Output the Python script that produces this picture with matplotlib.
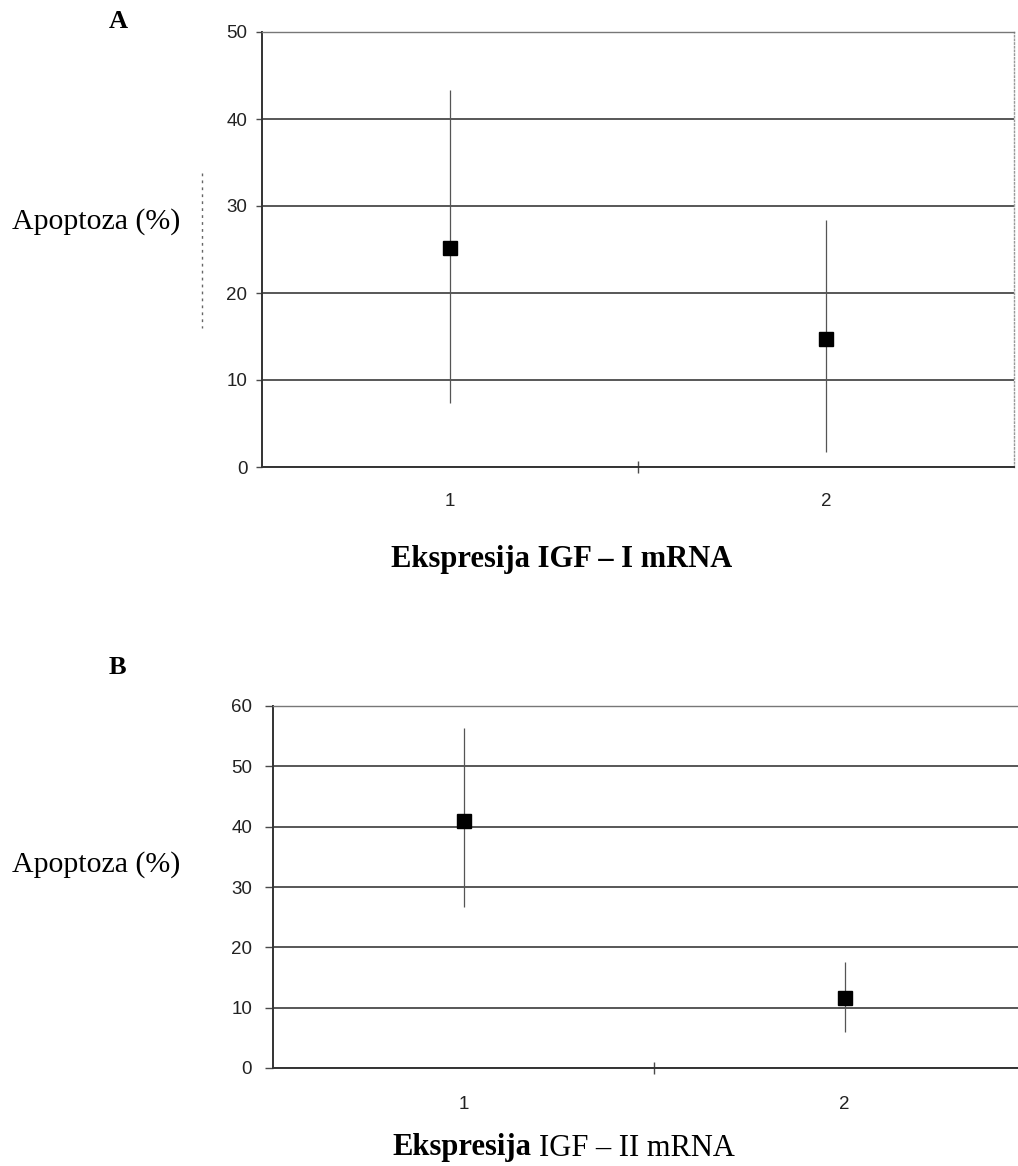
import numpy as np
import matplotlib
matplotlib.use("Agg")
import matplotlib.pyplot as plt
from matplotlib.lines import Line2D

# panel A: IGF-I mRNA expression
cats = [1, 2]
a_vals = [25.2, 14.7]
a_lo = [7.4, 1.7]
a_hi = [43.3, 28.4]

# panel B: IGF-II mRNA expression
b_vals = [41.0, 11.6]
b_lo = [26.7, 5.9]
b_hi = [56.4, 17.5]

a_yticks = [0, 10, 20, 30, 40, 50]
b_yticks = [0, 10, 20, 30, 40, 50, 60]

W, H = 1018, 1166
fig = plt.figure(figsize=(W / 100, H / 100), dpi=100)

serif = "Liberation Serif"
sans = "Liberation Sans"
grid_col = "#4a4a4a"


def panel(rect, vals, lo, hi, yticks, xlab_pad, ylen, ypad):
    ax = fig.add_axes(rect)
    vals = np.array(vals)
    err = [vals - np.array(lo), np.array(hi) - vals]
    ax.errorbar(cats, vals, yerr=err, fmt="s", color="black", ms=9.5,
                ecolor="#555555", elinewidth=0.9, capsize=0, zorder=3)
    ax.set_xlim(0.5, 2.5)
    ax.set_ylim(yticks[0], yticks[-1])
    ax.set_yticks(yticks)
    ax.yaxis.grid(True, color=grid_col, lw=1.3)
    ax.set_axisbelow(True)
    ax.set_xticks(cats)
    ax.set_xticks([1.5], minor=True)
    ax.tick_params(axis="x", which="major", length=0, pad=xlab_pad)
    ax.tick_params(axis="x", which="minor", length=9, direction="inout",
                   color=grid_col, width=1.0)
    ax.tick_params(axis="y", length=ylen, width=1.0, color=grid_col, pad=ypad)
    for lab in ax.get_xticklabels() + ax.get_yticklabels():
        lab.set_fontfamily(sans)
        lab.set_fontsize(13.5)
        lab.set_color("#222222")
    for s in ["left", "bottom"]:
        ax.spines[s].set_color("#333333")
        ax.spines[s].set_linewidth(1.4)
    ax.spines["top"].set_color("#777777")
    ax.spines["top"].set_linestyle((0, (6, 1)))
    ax.spines["top"].set_linewidth(1.0)
    ax.spines["right"].set_color("#999999")
    ax.spines["right"].set_linestyle(":")
    ax.spines["right"].set_linewidth(1.0)
    return ax


axA = panel([262 / W, 1 - 467 / H, 752 / W, 435 / H],
            a_vals, a_lo, a_hi, a_yticks, 19, 4.5, 6)
axB = panel([273 / W, 1 - 1068 / H, 762 / W, 362 / H],
            b_vals, b_lo, b_hi, b_yticks, 20, 6, 9)

fig.text(118 / W, 1 - 22 / H, "A", family=serif, weight="bold", fontsize=19,
         ha="center", va="center")
fig.text(117 / W, 1 - 667 / H, "B", family=serif, weight="bold", fontsize=19,
         ha="center", va="center")

fig.text(96 / W, 1 - 222 / H, "Apoptoza (%)", family=serif, fontsize=21.5,
         ha="center", va="center")
fig.text(96 / W, 1 - 865 / H, "Apoptoza (%)", family=serif, fontsize=21.5,
         ha="center", va="center")

fig.text(562 / W, 1 - 560 / H, "Ekspresija IGF \u2013 I mRNA", family=serif,
         weight="bold", fontsize=22, ha="center", va="center")
fig.text(531 / W, 1 - 1148 / H, "Ekspresija", family=serif, weight="bold",
         fontsize=22, ha="right", va="center")
fig.text(539 / W, 1 - 1148 / H, "IGF \u2013 II mRNA", family=serif,
         fontsize=22, ha="left", va="center")

# faint dotted scan mark left of panel A axis
fig.add_artist(Line2D([202 / W, 202 / W], [1 - 173 / H, 1 - 328 / H],
                      transform=fig.transFigure, color="#666666", lw=1.0,
                      ls=(0, (2, 3))))

fig.savefig("out.png", dpi=100)
